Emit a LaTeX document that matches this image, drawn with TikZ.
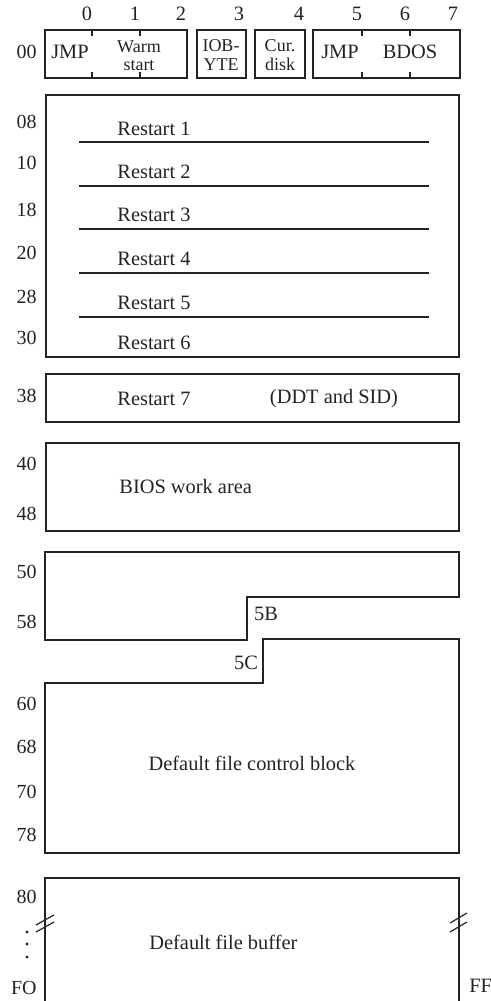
\documentclass[tikz,border=0pt]{standalone}
\usepackage{fontspec}
\setmainfont{Liberation Serif}
\usepackage{tikz}
\usetikzlibrary{positioning}
\definecolor{ink}{RGB}{35,35,35}
\tikzset{
  mem/.style   ={draw=ink, line width=0.9pt},
  tickmark/.style={draw=ink, line width=0.6pt},
  addr/.style  ={font=\fontsize{10}{12}\selectfont, text=ink, anchor=east, inner sep=1pt},
  lbl/.style   ={font=\fontsize{10.2}{12}\selectfont, text=ink, inner sep=1pt},
  cell/.style  ={font=\fontsize{9}{11}\selectfont, text=ink, anchor=base,
                 inner sep=0pt, text height=6.2pt, text depth=0pt},
}

\begin{document}
\begin{tikzpicture}[x=0.5pt,y=-0.5pt]
    \useasboundingbox (0,0) rectangle (491,1001);
    % byte offsets
    \foreach \n/\x in {0/87,1/135,2/181,3/239,4/299,5/357,6/405,7/453}
      \node[lbl] (off\n) at (\x,14) {\n};
    % first row
    \draw[mem] (45,30) rectangle (187,78);
    \draw[mem] (197,30) rectangle (246,78);
    \draw[mem] (255,30) rectangle (305,78);
    \draw[mem] (313,30) rectangle (460,78);
    \foreach \x in {92,140,362,410}{
      \draw[tickmark] (\x,30) -- (\x,36);
      \draw[tickmark] (\x,72) -- (\x,78);
    }
    \node[addr] (a00) at (39,52) {00};
    \node[lbl] (jmpa) at (70,52) {JMP};
    \node[cell] (warm) at (139,52) {Warm};
    \node[cell] (start) at (139,70) {start};
    \node[cell] (iob) at (221,51) {IOB-};
    \node[cell] (yte) at (221,70) {YTE};
    \node[cell] (cur) at (280,51) {Cur.};
    \node[cell] (disk) at (280,70) {disk};
    \node[lbl] (jmpb) at (340,52) {JMP};
    \node[lbl] (bdos) at (410,52) {BDOS};
    % restart vectors
    \draw[mem] (46,95) rectangle (459,357);
    \foreach \y in {142,186,229,273,317}
      \draw[mem] (79,\y) -- (429,\y);
    \foreach \i/\y in {1/129,2/172,3/215,4/259,5/303,6/343}
      \node[lbl, anchor=west] (rst\i) at (115,\y) {Restart \i};
    \foreach \a/\y in {08/122,10/163,18/210,20/253,28/297,30/338}
      \node[addr] (a\a) at (39,\y) {\a};
    % restart 7
    \draw[mem] (46,374) rectangle (459,422);
    \node[addr] (a38) at (39,396) {38};
    \node[lbl, anchor=west] (rst7) at (115,399) {Restart 7};
    \node[lbl] (ddt) at (334,399) {(DDT and SID)};
    % BIOS work area
    \draw[mem] (46,443) rectangle (459,531);
    \node[addr] (a40) at (39,464) {40};
    \node[addr] (a48) at (39,514) {48};
    \node[lbl, anchor=west] (bios) at (117,487) {BIOS work area};
    % 50 -- 5B
    \draw[mem] (45,552) -- (459,552) -- (459,597) -- (247,597) -- (247,640) -- (45,640) -- cycle;
    \node[addr] (a50) at (39,572) {50};
    \node[addr] (a58) at (39,622) {58};
    \node[lbl] (b5b) at (266,614) {5B};
    % default FCB
    \draw[mem] (263,639) -- (459,639) -- (459,853) -- (45,853) -- (45,683) -- (263,683) -- cycle;
    \node[lbl] (b5c) at (246,663) {5C};
    \foreach \a/\y in {60/704,68/747,70/792,78/835}
      \node[addr] (a\a) at (39,\y) {\a};
    \node[lbl] (fcb) at (252,763) {Default file control block};
    % default buffer
    \draw[mem] (45,1001) -- (45,878) -- (459,878) -- (459,1001);
    \draw[tickmark] (36,925) -- (54,915);
    \draw[tickmark] (36,932) -- (54,922);
    \draw[tickmark] (450,923) -- (467,913);
    \draw[tickmark] (450,932) -- (467,922);
    \node[addr] (a80) at (39,897) {80};
    \foreach \y in {932,944,957}
      \fill[ink] (27,\y) circle (1.6);
    \node[addr] (afo) at (39,988) {FO};
    \node[lbl, anchor=west] (aff) at (467,986) {FF};
    \node[lbl, anchor=west] (buf) at (147,942) {Default file buffer};
\end{tikzpicture}
\end{document}
